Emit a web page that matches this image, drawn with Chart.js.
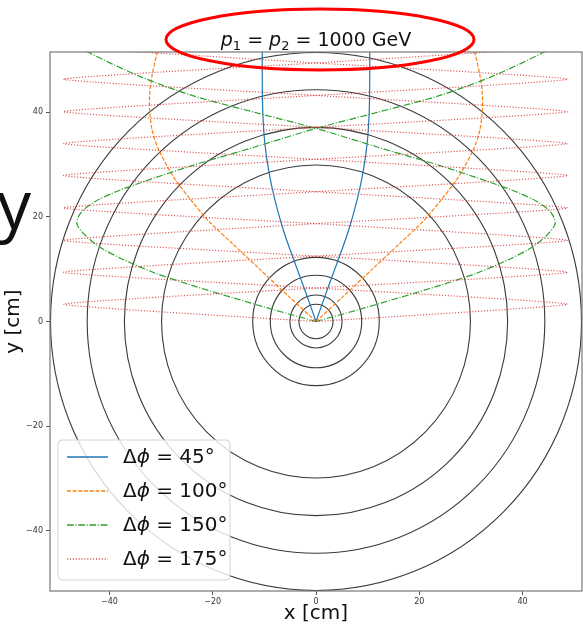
<!DOCTYPE html>
<html>
<head>
<meta charset="utf-8">
<script src="https://cdn.jsdelivr.net/npm/chart.js@4.4.1/dist/chart.umd.min.js"></script>
<style>
  html, body { margin: 0; padding: 0; background: #fff; }
  #wrap { width: 583px; height: 630px; }
</style>
</head>
<body>
<div id="wrap"><canvas id="chart" width="583" height="630"></canvas></div>
<script>
// axis ticks
const ticksX = [-40, -20, 0, 20, 40];
const ticksY = [-40, -20, 0, 20, 40];

// detector layer radii [cm]
const ringRadii = [3.3, 5.05, 8.85, 12.25, 29.9, 37.1, 44.3, 51.4];

// tracks (R = goes right first, L = goes left first)
const phi45Y  = [0, 5.6, 11.5, 17.4, 23, 28.5, 34, 40, 46, 51.5, 54];
const phi45XR = [0, 2.0, 4.2, 6.3, 7.9, 9.1, 9.9, 10.3, 10.4, 10.4, 10.3];
const phi45XL = [0, -2.0, -4.2, -6.3, -7.9, -9.1, -9.9, -10.3, -10.4, -10.4, -10.3];

const phi100Y  = [0, 5, 10.1, 15, 19.2, 23.7, 27.5, 32.7, 36.5, 40.3, 43.5, 46.7, 51.2, 54];
const phi100XR = [0, 5.5, 11, 16.3, 20.8, 24.6, 27.5, 30.4, 31.7, 32.2, 32.2, 31.8, 30.8, 30.0];
const phi100XL = [0, -5.5, -11, -16.3, -20.8, -24.6, -27.5, -30.4, -31.7, -32.2, -32.2, -31.8, -30.8, -30.0];

const phi150Y  = [0, 2.2, 4.6, 6.9, 9.2, 11.7, 14, 16.3, 18.7, 20.8, 22.8, 24.7, 26.6, 29.8, 33.3, 36.9, 40, 43.2, 46.8, 51.4, 53.5];
const phi150XR = [0, 8, 16.3, 24, 31, 37, 41.5, 44.5, 46.3, 45.5, 43, 39, 33.7, 24, 12, 0, -12, -24, -34, -44, -47.5];
const phi150XL = [0, -8, -16.3, -24, -31, -37, -41.5, -44.5, -46.3, -45.5, -43, -39, -33.7, -24, -12, 0, 12, 24, 34, 44, 47.5];

const phi175Y  = [0, 3.3, 6.4, 9.4, 12.5, 15.5, 18.7, 21.7, 24.8, 27.9, 31.0, 34.0, 37.1, 40.1, 43.2, 46.3, 49.4, 52.4];
const phi175XR = [0, 48.7, 0, -48.9, 0, 48.7, 0, -48.9, 0, 48.7, 0, -48.9, 0, 48.7, 0, -48.9, 0, 48.7];
const phi175XL = [0, -48.9, 0, 48.7, 0, -48.9, 0, 48.7, 0, -48.9, 0, 48.7, 0, -48.9, 0, 48.7, 0, -48.9];

const legendLabels = ['45°', '100°', '150°', '175°'];

const FONT = 'DejaVu Sans';

function track(xs, ys) {
    return xs.map((x, i) => ({ x: x, y: ys[i] }));
}

const styles = [
    { color: '#1f77b4', dash: [], tension: 0.3 },
    { color: '#ff7f0e', dash: [4, 1.7], tension: 0.3 },
    { color: '#2ca02c', dash: [6.7, 1.7, 1.1, 1.7], tension: 0.3 },
    { color: 'rgba(214,39,40,0.8)', dash: [1.1, 1.8], tension: 0.14 }
];

function lineSet(xs, ys, st, order) {
    return {
        data: track(xs, ys),
        showLine: true,
        borderColor: st.color,
        borderWidth: 1.2,
        borderDash: st.dash,
        pointRadius: 0,
        fill: false,
        tension: st.tension,
        order: order
    };
}

function fmtTick(v) {
    return v < 0 ? '\u2212' + Math.abs(v) : String(v);
}

// draw a row of text pieces with their own fonts
function drawRuns(ctx, runs, x, y) {
    let cx = x;
    runs.forEach(r => {
        ctx.font = r.f;
        ctx.fillText(r.t, cx, y + (r.dy || 0));
        cx += ctx.measureText(r.t).width;
    });
    return cx;
}
function runsWidth(ctx, runs) {
    let w = 0;
    runs.forEach(r => { ctx.font = r.f; w += ctx.measureText(r.t).width; });
    return w;
}

const ringsPlugin = {
    id: 'rings',
    beforeDatasetsDraw(chart) {
        const { ctx, chartArea, scales } = chart;
        const cx = scales.x.getPixelForValue(0);
        const cy = scales.y.getPixelForValue(0);
        ctx.save();
        ctx.beginPath();
        ctx.rect(chartArea.left, chartArea.top, chartArea.right - chartArea.left, chartArea.bottom - chartArea.top);
        ctx.clip();
        ctx.strokeStyle = '#3a3a3a';
        ctx.lineWidth = 1.1;
        ringRadii.forEach(r => {
            const rx = scales.x.getPixelForValue(r) - cx;
            const ry = cy - scales.y.getPixelForValue(r);
            ctx.beginPath();
            ctx.ellipse(cx, cy, rx, ry, 0, 0, Math.PI * 2);
            ctx.stroke();
        });
        ctx.restore();
    }
};

const decorPlugin = {
    id: 'decor',
    afterDraw(chart) {
        const { ctx, chartArea } = chart;
        ctx.save();

        // frame
        ctx.strokeStyle = '#777';
        ctx.lineWidth = 1.2;
        ctx.strokeRect(chartArea.left, chartArea.top, chartArea.right - chartArea.left, chartArea.bottom - chartArea.top);

        // legend
        const lx = 58, ly = 440, lw = 172, lh = 140;
        ctx.beginPath();
        ctx.roundRect(lx, ly, lw, lh, 4);
        ctx.fillStyle = 'rgba(255,255,255,0.8)';
        ctx.fill();
        ctx.strokeStyle = '#d4d4d4';
        ctx.lineWidth = 1;
        ctx.stroke();
        ctx.textBaseline = 'middle';
        ctx.fillStyle = '#111';
        legendLabels.forEach((lab, i) => {
            const yy = 457 + i * 34;
            const st = styles[i];
            ctx.beginPath();
            ctx.strokeStyle = st.color;
            ctx.lineWidth = 1.5;
            ctx.setLineDash(st.dash);
            ctx.moveTo(67, yy);
            ctx.lineTo(108, yy);
            ctx.stroke();
            ctx.setLineDash([]);
            drawRuns(ctx, [
                { t: '\u0394', f: '20px "' + FONT + '"' },
                { t: '\u03d5', f: 'italic 20px "' + FONT + '"' },
                { t: ' = ' + lab, f: '20px "' + FONT + '"' }
            ], 123, yy + 1);
        });

        // title
        ctx.textBaseline = 'alphabetic';
        const big = '19px "' + FONT + '"';
        const ital = 'italic 19px "' + FONT + '"';
        const sub = '13px "' + FONT + '"';
        const title = [
            { t: 'p', f: ital }, { t: '1', f: sub, dy: 4 }, { t: ' = ', f: big },
            { t: 'p', f: ital }, { t: '2', f: sub, dy: 4 }, { t: ' = 1000 GeV', f: big }
        ];
        const mid = (chartArea.left + chartArea.right) / 2;
        drawRuns(ctx, title, mid - runsWidth(ctx, title) / 2, 46);

        // slide remnants: big letter and red highlight ring
        ctx.font = '68px "Open Sans"';
        ctx.fillStyle = '#111';
        ctx.fillText('y', -3, 229);
        ctx.beginPath();
        ctx.ellipse(320, 39.5, 154, 30.5, 0, 0, Math.PI * 2);
        ctx.strokeStyle = '#ff0000';
        ctx.lineWidth = 3;
        ctx.stroke();
        ctx.restore();
    }
};

const tickFont = { size: 8, family: FONT };

new Chart(document.getElementById('chart'), {
    type: 'scatter',
    data: {
        datasets: [
            lineSet(phi45XR, phi45Y, styles[0], 4),
            lineSet(phi45XL, phi45Y, styles[0], 4),
            lineSet(phi100XR, phi100Y, styles[1], 3),
            lineSet(phi100XL, phi100Y, styles[1], 3),
            lineSet(phi150XR, phi150Y, styles[2], 2),
            lineSet(phi150XL, phi150Y, styles[2], 2),
            lineSet(phi175XR, phi175Y, styles[3], 1),
            lineSet(phi175XL, phi175Y, styles[3], 1)
        ]
    },
    options: {
        responsive: false,
        animation: false,
        devicePixelRatio: 1,
        layout: { padding: { top: 52, right: 1, bottom: 0, left: 0 } },
        plugins: {
            legend: { display: false },
            tooltip: { enabled: false }
        },
        scales: {
            x: {
                type: 'linear',
                min: -51.5,
                max: 51.5,
                afterBuildTicks: s => { s.ticks = ticksX.map(v => ({ value: v })); },
                afterFit: s => { s.height = 39; },
                grid: { drawOnChartArea: false, drawTicks: true, tickLength: 4, color: '#555' },
                border: { display: false },
                ticks: { font: tickFont, color: '#333', padding: 2, maxRotation: 0, autoSkip: false, callback: fmtTick },
                title: { display: true, text: 'x [cm]', font: { size: 20, family: FONT }, color: '#111', padding: { top: 0, bottom: 4 } }
            },
            y: {
                type: 'linear',
                min: -51.5,
                max: 51.5,
                afterBuildTicks: s => { s.ticks = ticksY.map(v => ({ value: v })); },
                afterFit: s => { s.width = 50; },
                grid: { drawOnChartArea: false, drawTicks: true, tickLength: 4, color: '#555' },
                border: { display: false },
                ticks: { font: tickFont, color: '#333', padding: 3, autoSkip: false, callback: fmtTick },
                title: { display: true, text: 'y [cm]', font: { size: 20, family: FONT }, color: '#111', padding: { top: 2, bottom: 0 } }
            }
        }
    },
    plugins: [ringsPlugin, decorPlugin]
});
</script>
</body>
</html>
